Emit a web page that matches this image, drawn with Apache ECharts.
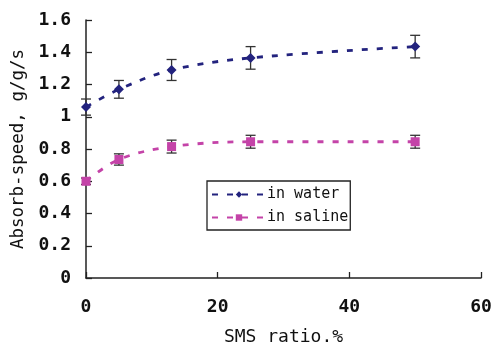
<!DOCTYPE html>
<html>
<head>
<meta charset="utf-8">
<script src="https://cdn.jsdelivr.net/npm/echarts@6/dist/echarts.min.js"></script>
<style>
  html, body { margin: 0; padding: 0; background: #fff; }
  #main { width: 492px; height: 344px; }
</style>
</head>
<body>
<div id="main"></div>
<script>
// data
const smsRatio = [0, 5, 13, 25, 50];
const inWater = [1.06, 1.17, 1.29, 1.365, 1.435];
const inWaterErr = [0.05, 0.055, 0.065, 0.07, 0.07];
const inSaline = [0.60, 0.735, 0.815, 0.845, 0.845];
const inSalineErr = [0.02, 0.035, 0.04, 0.04, 0.04];

const font = "DejaVu Sans Mono";
const waterColor = "#23237e";
const salineColor = "#c443a8";

const chartDom = document.getElementById("main");
const myChart = echarts.init(chartDom);

const pairs = (ys) => smsRatio.map((x, i) => [x, ys[i]]);
const errPairs = (ys, es) => smsRatio.map((x, i) => [x, ys[i] - es[i], ys[i] + es[i]]);

// error bars drawn with black caps
const errorBars = (name, ys, es) => ({
  type: "custom",
  name: name + "-err",
  data: errPairs(ys, es),
  z: 1,
  silent: true,
  renderItem: (params, api) => {
    const lo = api.coord([api.value(0), api.value(1)]);
    const hi = api.coord([api.value(0), api.value(2)]);
    const w = 5;
    const style = { stroke: "#333", lineWidth: 1.3 };
    return {
      type: "group",
      children: [
        { type: "line", shape: { x1: lo[0], y1: lo[1], x2: hi[0], y2: hi[1] }, style },
        { type: "line", shape: { x1: lo[0] - w, y1: lo[1], x2: lo[0] + w, y2: lo[1] }, style },
        { type: "line", shape: { x1: hi[0] - w, y1: hi[1], x2: hi[0] + w, y2: hi[1] }, style },
      ],
    };
  },
});

const option = {
  animation: false,
  grid: { left: 86, right: 11, top: 20, bottom: 66, outerBoundsMode: "none" },
  legend: {
    left: 207,
    top: 181,
    orient: "vertical",
    data: ["in water", "in saline"],
    borderColor: "#222",
    borderWidth: 1.3,
    padding: [6, 2, 5, 4],
    itemGap: 8,
    itemWidth: 54,
    itemHeight: 8,
    textStyle: { fontFamily: font, fontSize: 15, color: "#111", padding: [0, 0, 0, -4] },
  },
  xAxis: {
    type: "value",
    min: 0,
    max: 60,
    interval: 20,
    name: "SMS ratio.%",
    nameLocation: "middle",
    nameGap: 50,
    nameTextStyle: { fontFamily: font, fontSize: 18, color: "#111" },
    axisLine: { lineStyle: { color: "#222", width: 1.5 } },
    axisTick: { inside: true, length: 6, lineStyle: { color: "#222", width: 1.3 } },
    axisLabel: { fontFamily: font, fontSize: 18, fontWeight: "bold", color: "#111", margin: 20 },
    splitLine: { show: false },
  },
  yAxis: {
    type: "value",
    min: 0,
    max: 1.6,
    interval: 0.2,
    name: "Absorb-speed, g/g/s",
    nameLocation: "middle",
    nameGap: 57,
    nameTextStyle: { fontFamily: font, fontSize: 17.5, color: "#111" },
    axisLine: { show: true, lineStyle: { color: "#222", width: 1.5 } },
    axisTick: { show: true, inside: true, length: 6, lineStyle: { color: "#222", width: 1.3 } },
    axisLabel: {
      fontFamily: font,
      fontSize: 18,
      fontWeight: "bold",
      color: "#111",
      margin: 15,
      formatter: (v) => String(Math.round(v * 10) / 10),
    },
    splitLine: { show: false },
  },
  series: [
    errorBars("in water", inWater, inWaterErr),
    errorBars("in saline", inSaline, inSalineErr),
    {
      name: "in water",
      type: "line",
      data: pairs(inWater),
      smooth: 0.35,
      symbol: "diamond",
      symbolSize: 10,
      z: 3,
      itemStyle: { color: waterColor },
      lineStyle: { color: waterColor, width: 2.8, type: [6, 9] },
    },
    {
      name: "in saline",
      type: "line",
      data: pairs(inSaline),
      smooth: 0.35,
      symbol: "rect",
      symbolSize: 9,
      z: 3,
      itemStyle: { color: salineColor },
      lineStyle: { color: salineColor, width: 2.8, type: [6, 9] },
    },
  ],
};

option && myChart.setOption(option);
</script>
</body>
</html>
